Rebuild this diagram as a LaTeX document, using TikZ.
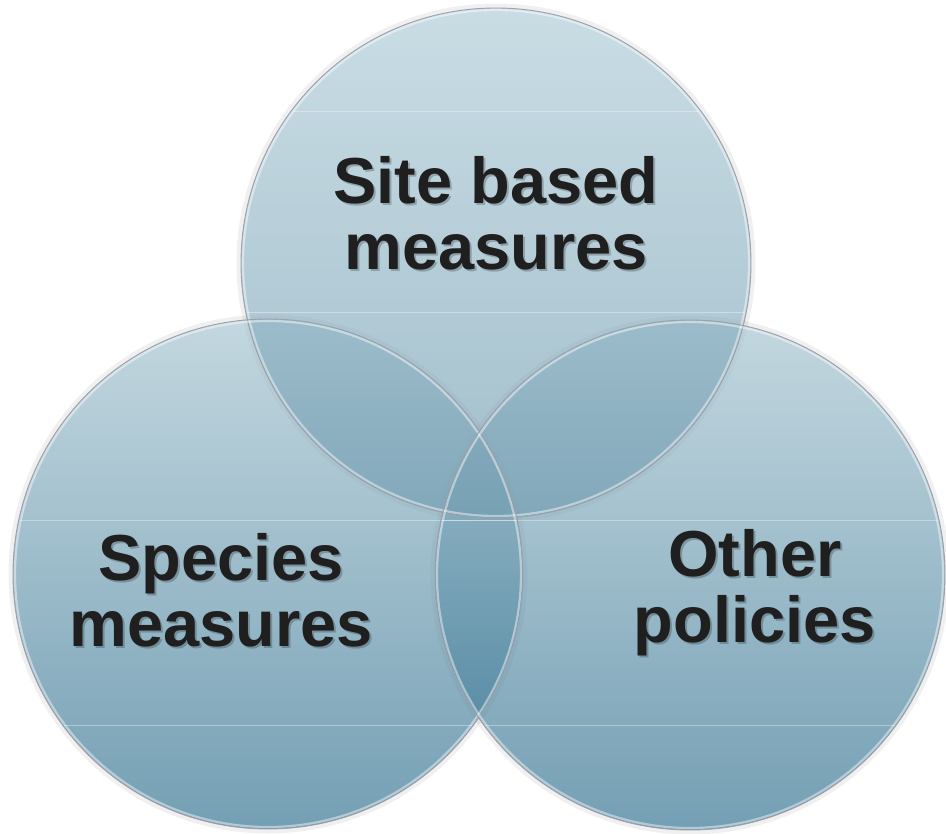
\documentclass[tikz,border=0pt]{standalone}
\usepackage{fontspec}
\setmainfont{Liberation Sans}
\begin{document}
\begin{tikzpicture}[x=1pt,y=-1pt,
  lbl/.style={align=center,text=black!88,font=\fontsize{65}{66}\selectfont\bfseries,inner sep=0pt},
  shd/.style={align=center,text=black,opacity=0.22,font=\fontsize{65}{66}\selectfont\bfseries,inner sep=0pt},
  rim/.style={draw=black!30!blue!8!gray!70,line width=0.9pt},
  gloss/.style={draw=white,line width=2.2pt,opacity=0.45},
  band/.style={draw=white,line width=1pt,opacity=0.35}]
\definecolor{topA}{HTML}{ADCBD7}
\definecolor{topB}{HTML}{98BAC9}
\definecolor{topC}{HTML}{6F9BAF}
\definecolor{sideA}{HTML}{A4C3CF}
\definecolor{sideB}{HTML}{8AADC0}
\definecolor{sideC}{HTML}{2A6C8C}
\useasboundingbox (0,0) rectangle (946,834);
\fill[white] (0,0) rectangle (946,834);
\coordinate (ct) at (496,263);
\coordinate (cl) at (268,574);
\coordinate (cr) at (690,575);
% soft outer shadows
\foreach \c in {ct,cl,cr}{
  \draw[black,opacity=0.06,line width=5pt] (\c) circle[radius=257pt];
}
% circles
\shade[top color=sideA,middle color=sideB,bottom color=sideC,fill opacity=0.65] (cl) circle[radius=255pt];
\shade[top color=sideA,middle color=sideB,bottom color=sideC,fill opacity=0.65] (cr) circle[radius=255pt];
\shade[top color=topA,middle color=topB,bottom color=topC,fill opacity=0.65] (ct) circle[radius=255pt];
% faint bands
\begin{scope}
\clip (ct) circle[radius=254pt];
\draw[band] (200,112) -- (800,112);
\draw[band] (200,313) -- (800,313);
\end{scope}
\begin{scope}
\clip (cl) circle[radius=254pt];
\draw[band] (0,520) -- (560,520);
\draw[band] (0,725) -- (560,725);
\end{scope}
\begin{scope}
\clip (cr) circle[radius=254pt];
\draw[band] (420,520) -- (946,520);
\draw[band] (420,725) -- (946,725);
\end{scope}
% rims
\foreach \c in {ct,cl,cr}{
  \draw[gloss] (\c) circle[radius=253pt];
  \draw[rim] (\c) circle[radius=255pt];
}
% text shadows
\node[shd] (tsite-s) at (498,215) {Site based\\measures};
\node[shd] (tspec-s) at (223,592) {Species\\measures};
\node[shd] (toth-s) at (757,595) {Other\\policies};
% text
\node[lbl] (tsite) at (496,213) {Site based\\measures};
\node[lbl] (tspec) at (221,590) {Species\\measures};
\node[lbl] (toth) at (755,593) {Other\\policies};
\end{tikzpicture}
\end{document}
